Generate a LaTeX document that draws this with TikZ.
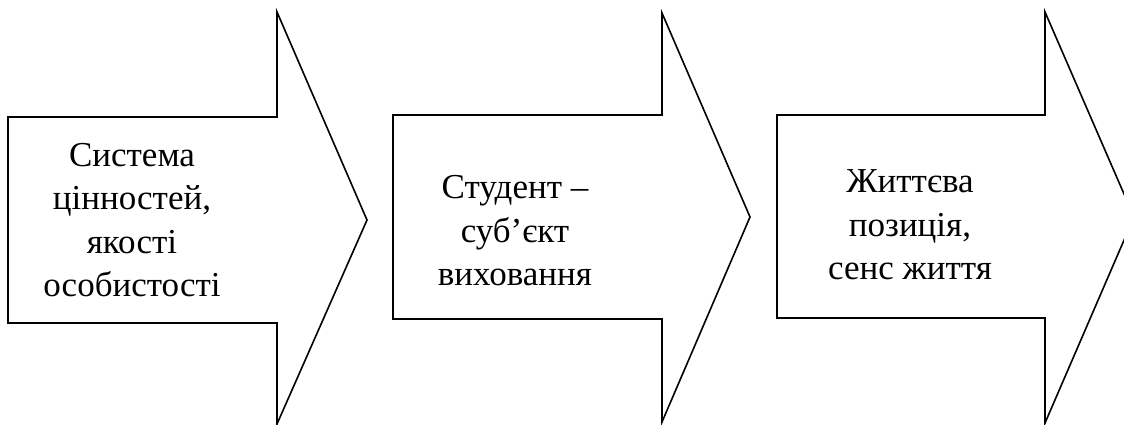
\documentclass[tikz,border=0pt]{standalone}
\usepackage{fontspec}
\setmainfont{Liberation Serif}
\begin{document}
\begin{tikzpicture}[x=1pt, y=-1pt, line width=1.6pt,
    arrowtext/.style={align=center, inner sep=0pt, font=\fontsize{35}{43.5}\selectfont}]
    \useasboundingbox (0,0) rectangle (1124,425);
    \clip (0,0) rectangle (1124,425);
    \draw (8,117) -- (277,117) -- (277,12) -- (367,220) -- (277,424) -- (277,323) -- (8,323) -- cycle;
    \draw (393,115) -- (662,115) -- (662,13) -- (750,217) -- (662,422) -- (662,319) -- (393,319) -- cycle;
    \draw (777,115) -- (1045,115) -- (1045,12) -- (1134,217) -- (1045,423) -- (1045,318) -- (777,318) -- cycle;
    \node[arrowtext] (values) at (132,220) {Система\\цінностей,\\якості\\особистості};
    \node[arrowtext] (student) at (515,231) {Студент –\\суб’єкт\\виховання};
    \node[arrowtext] (position) at (910,225) {Життєва\\позиція,\\сенс життя};
\end{tikzpicture}
\end{document}
